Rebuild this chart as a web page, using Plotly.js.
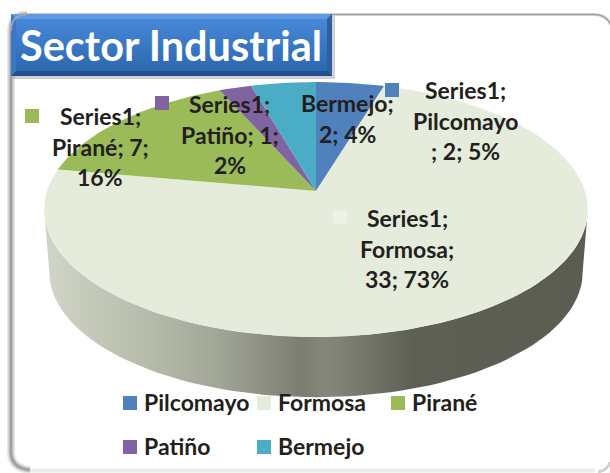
<!DOCTYPE html>
<html><head><meta charset="utf-8">
<script src="https://cdn.plot.ly/plotly-3.0.1.min.js"></script>
<style>html,body{margin:0;padding:0;background:#fff;overflow:hidden}#c{width:610px;height:473px}</style>
</head><body><div id="c"></div>
<script>
const categories = ["Pilcomayo","Formosa","Pirané","Patiño","Bermejo"];
const seriesName = "Series1";
const values = [2.1,33,7,1,2];
const colors = ["#4F81BD","#E6ECDC","#9BBB59","#8064A2","#4BACC6"];
const chartTitle = "Sector Industrial";

const W=610,H=473;
const total=values.reduce((a,b)=>a+b,0);
const pct=values.map(v=>Math.round(v/total*100));
const shown=values.map(v=>Math.round(v));

// projected disc: perspective-tilted circle
const cx=316,cy=191,a=269,b=124.8,k=0.145;
function pt(deg){const t=deg*Math.PI/180,u=Math.sin(t),v=Math.cos(t),w=1+k*v;
  return [cx+a*u/w, cy-b*v/w];}
function arc(d0,d1){const xs=[],ys=[];const n=Math.max(2,Math.ceil(Math.abs(d1-d0)));
  for(let i=0;i<=n;i++){const p=pt(d0+(d1-d0)*i/n);xs.push(p[0]);ys.push(p[1]);}
  return [xs,ys];}

const traces=[];
function poly(xs,ys,extra){traces.push(Object.assign({type:'scatter',mode:'lines',x:xs,y:ys,fill:'toself',line:{width:0},hoverinfo:'skip',showlegend:false},extra));}

// side wall
(function(){
  const sc=0.981,off=63;
  const xs=[],ys=[],bx=[],by=[];
  for(let d=98;d<=262;d+=2){const p=pt(d);xs.push(p[0]);ys.push(p[1]);}
  for(let d=262;d>=98;d-=2){const p=pt(d);bx.push(cx+(p[0]-cx)*sc);by.push(cy+(p[1]-cy)*sc+off);}
  poly(xs.concat(bx),ys.concat(by),{fillgradient:{type:'horizontal',start:44,stop:588,colorscale:[
    [0,'#d0d5c5'],[0.2,'#b6baaa'],[0.33,'#a0a495'],[0.47,'#7b7e71'],[0.52,'#85877b'],[0.68,'#5f6055'],[1,'#5c5d52']]}});
})();

// slices, clockwise from 12 o'clock
let acc=0;
values.forEach((v,i)=>{const d0=acc/total*360;acc+=v;const d1=acc/total*360;
  const [ax,ay]=arc(d0,d1);
  poly([cx].concat(ax,[cx]),[cy].concat(ay,[cy]),{fillcolor:colors[i],name:categories[i]});
});

// title band with bevel
const L=11,R=332,T=14,B=76,e=5;
poly([L+2,R+3,R+3,L+2,L+2],[T+2,T+2,B+3,B+3,T+2],{fillcolor:'rgba(90,90,90,0.28)'});
poly([L,R,R,L,L],[T,T,B,B,T],{fillgradient:{type:'vertical',start:T,stop:B,colorscale:[[0,'#4a8bdc'],[1,'#2b65ab']]}});
poly([L,R,R-e,L+e,L],[T,T,T+e,T+e,T],{fillcolor:'#5b9be4'});
poly([R,R,R-e,R-e,R],[T,B,B-e,T+e,T],{fillcolor:'#2c5f9f'});
poly([L,R,R-e,L+e,L],[B,B,B-e,B-e,B],{fillcolor:'#23508a'});
poly([L,L+e,L+e,L,L],[T,T+e,B-e,B,T],{fillcolor:'#3a78c6'});

const font={family:'Lato, Carlito, sans-serif',color:'#231F20',size:23,weight:700};
const ann=[],shp=[];
function txt(x,y,s,f,anchor){ann.push({x:x,y:y,xref:'x',yref:'y',text:s,showarrow:false,font:f||font,xanchor:anchor||'center',yanchor:'middle'});}
function sq(x,y,c,size){shp.push({type:'rect',xref:'x',yref:'y',x0:x,x1:x+(size||14),y0:y,y1:y+(size||14),fillcolor:c,line:{width:0},layer:'above'});}

// frame: soft left and bottom edge, thin top edge
function stroke(path,c,w,layer){shp.push({type:'path',xref:'x',yref:'y',layer:layer||'below',line:{color:c,width:w},fillcolor:'rgba(0,0,0,0)',path:path});}
const leftEdge='M 27 14.5 Q 11 14.5 11 31 L 11 452 Q 11 468 30 470';
const topEdge='M 27 14.5 L 594 14.5 Q 610 14.5 613 32';
const bottomEdge='M 30 470.5 L 595 470.5';
stroke(bottomEdge,'#ececec',4);
stroke(leftEdge,'#e6e6e6',8);
stroke(leftEdge,'#c6c6c6',5);
stroke(leftEdge,'#a2a2a2',2.5);
stroke(topEdge,'#dcdcdc',3);
stroke(topEdge,'#a0a0a0',1.6);
stroke('M 27 14.5 Q 11 14.5 11 31','#a8a8a8',1.6,'above');
stroke('M 610 462 Q 608 470 598 472','#d0d0d0',3);

txt(170.5,45,chartTitle,{family:'Lato, Carlito, sans-serif',color:'#fff',size:41.5,weight:700});

// data labels: lines per slice
const labelLines=[
 [seriesName+";",categories[0],"; "+shown[0]+"; "+pct[0]+"%"],
 [seriesName+";",categories[1]+";",shown[1]+"; "+pct[1]+"%"],
 [seriesName+";",categories[2]+"; "+shown[2]+";",pct[2]+"%"],
 [seriesName+";",categories[3]+"; "+shown[3]+";",pct[3]+"%"],
 [categories[4]+";",shown[4]+"; "+pct[4]+"%"]];
const labelX=[465,407,100,229.5,347];
const labelY=[90,218,116,104,103];
const lineGap=30.5;
labelLines.forEach((ls,i)=>ls.forEach((s,j)=>txt(labelX[i],labelY[i]+j*lineGap,s)));
const keyX=[385,333,25,155,null],keyY=[83,210,109,96,null];
keyX.forEach((x,i)=>{if(x!==null)sq(x,keyY[i],i===1?'#EDF1E6':colors[i]);});

// legend
const legX=[123,257,391,123,257],legY=[396,396,396,440,440];
categories.forEach((c,i)=>{sq(legX[i],legY[i],colors[i]);txt(legX[i]+18.5,legY[i]+6,c,null,'left');});

Plotly.newPlot('c',traces,{
 width:W,height:H,margin:{l:0,r:0,t:0,b:0},paper_bgcolor:'#fff',plot_bgcolor:'#fff',showlegend:false,
 xaxis:{range:[0,W],visible:false,fixedrange:true},
 yaxis:{range:[H,0],visible:false,fixedrange:true},
 annotations:ann,shapes:shp,hovermode:false
},{displayModeBar:false,staticPlot:true});
</script></body></html>
